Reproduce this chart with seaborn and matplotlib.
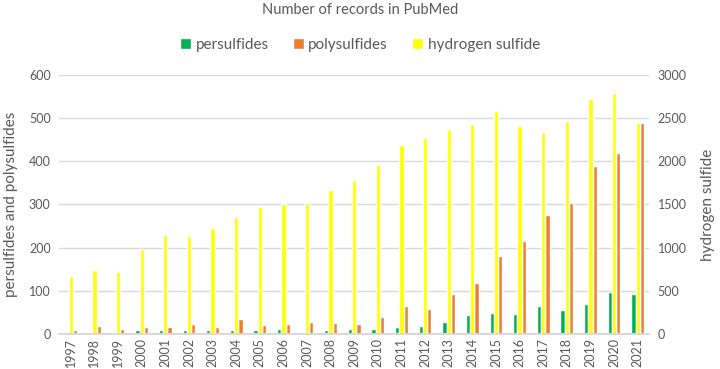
import pandas as pd
import matplotlib.pyplot as plt
import seaborn as sns
from matplotlib.patches import Patch

sns.set_theme(style="white")
plt.rcParams["font.family"] = ["Lato", "DejaVu Sans"]

# Number of PubMed records per year
years = [str(y) for y in range(1997, 2022)]
persulfides = [5, 1, 3, 8, 10, 9, 8, 10, 8, 12, 5, 9, 11, 12, 15, 19, 28, 44, 49, 46,
               65, 56, 69, 96, 93]
polysulfides = [9, 18, 11, 16, 17, 24, 17, 35, 20, 24, 28, 25, 22, 39, 64, 57, 92, 118,
                180, 215, 276, 303, 388, 420, 488]
hydrogen_sulfide = [671, 741, 714, 980, 1150, 1134, 1223, 1354, 1470, 1505, 1520, 1667,
                    1782, 1956, 2188, 2272, 2377, 2427, 2585, 2411, 2342, 2462, 2720,
                    2793, 2442]

series_order = ["persulfides", "hydrogen sulfide", "polysulfides"]
colors = {"persulfides": "#00b050", "polysulfides": "#ed7d31", "hydrogen sulfide": "#ffff00"}

df_left = pd.DataFrame({
    "year": years * 2,
    "serie": ["persulfides"] * len(years) + ["polysulfides"] * len(years),
    "count": persulfides + polysulfides,
})
df_right = pd.DataFrame({
    "year": years,
    "serie": ["hydrogen sulfide"] * len(years),
    "count": hydrogen_sulfide,
})

txt = "#595959"
grid = "#d9d9d9"

fig = plt.figure(figsize=(7.2, 3.69), dpi=100)
ax = fig.add_axes([0.082, 0.095, 0.820, 0.702])
ax2 = ax.twinx()

# the yellow series sits on the secondary axis, in the middle slot of each year
sns.barplot(data=df_left, x="year", y="count", hue="serie", hue_order=series_order,
            palette=colors, width=0.54, dodge=True, ax=ax, legend=False,
            errorbar=None, saturation=1)
sns.barplot(data=df_right, x="year", y="count", hue="serie", hue_order=series_order,
            palette=colors, width=0.54, dodge=True, ax=ax2, legend=False,
            errorbar=None, saturation=1)

ax.set_xlim(-0.5, len(years) - 0.5)
ax.set_ylim(0, 600)
ax2.set_ylim(0, 3000)
ax.set_yticks(range(0, 601, 100))
ax2.set_yticks(range(0, 3001, 500))
ax.yaxis.grid(True, color=grid, linewidth=1)
ax.set_axisbelow(True)

for a in (ax, ax2):
    for side in ["top", "left", "right"]:
        a.spines[side].set_visible(False)
    a.spines["bottom"].set_color(grid)
    a.tick_params(axis="both", length=0, labelsize=9, colors=txt, pad=6)

ax.tick_params(axis="x", rotation=90, pad=3)
ax.set_xlabel("")
ax.set_ylabel("persulfides and polysulfides", fontsize=11, color=txt, labelpad=8)
ax2.set_ylabel("hydrogen sulfide", fontsize=11, color=txt, labelpad=10)

fig.text(0.5, 0.972, "Number of records in PubMed", ha="center", va="center",
         fontsize=10.5, color=txt)
handles = [Patch(facecolor=colors[s], label=s) for s in ["persulfides", "polysulfides", "hydrogen sulfide"]]
fig.legend(handles=handles, loc="center", bbox_to_anchor=(0.5, 0.878), ncol=3,
           frameon=False, fontsize=11, labelcolor=txt, handlelength=0.7,
           handleheight=0.7, handletextpad=0.3, columnspacing=1.6)

fig.savefig("out.png", dpi=100)
